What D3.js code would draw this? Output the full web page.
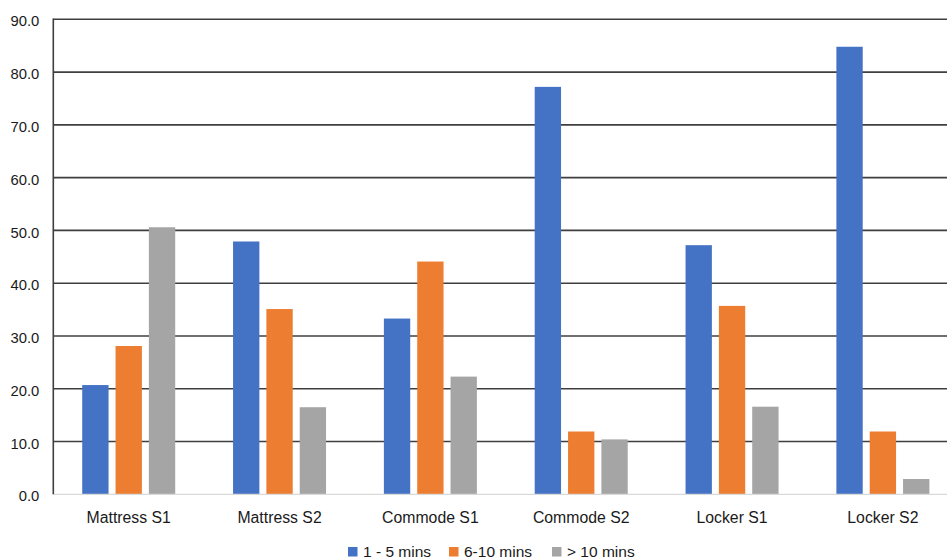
<!DOCTYPE html>
<html>
<head>
<meta charset="utf-8">
<script src="https://cdn.jsdelivr.net/npm/d3@7"></script>
<style>
  html, body { margin: 0; padding: 0; background: #fff; }
  svg { display: block; }
  text { font-family: "Liberation Sans", Arial, sans-serif; fill: #1a1a1a; }
</style>
</head>
<body>
<svg id="chart" width="947" height="560"></svg>
<script>
const categories = ["Mattress S1", "Mattress S2", "Commode S1", "Commode S2", "Locker S1", "Locker S2"];
const seriesNames = ["1 - 5 mins", "6-10 mins", "> 10 mins"];
const seriesColors = ["#4472C4", "#ED7D31", "#A5A5A5"];
const valuesShort = [20.7, 47.9, 33.3, 77.2, 47.2, 84.8];
const valuesMid = [28.1, 35.1, 44.1, 11.9, 35.7, 11.9];
const valuesLong = [50.6, 16.5, 22.3, 10.4, 16.6, 2.9];
const yTicks = [0, 10, 20, 30, 40, 50, 60, 70, 80, 90];

const seriesValues = [valuesShort, valuesMid, valuesLong];

const svg = d3.select("#chart");
const mLeft = 53.3, mRight = 958.3, mTop = 19.3, mBottom = 494.3;

const x0 = d3.scaleBand().domain(categories).range([mLeft, mRight]).padding(0);
const groupW = 93;
const x1 = d3.scaleBand().domain(seriesNames).range([0, groupW]).paddingInner(0.21).paddingOuter(0);
const y = d3.scaleLinear().domain([0, 90]).range([mBottom, mTop]);

// gridlines
const grid = svg.append("g");
grid.selectAll("line.grid").data(yTicks.filter(d => d > 0)).join("line")
  .attr("x1", mLeft).attr("x2", 947)
  .attr("y1", d => y(d)).attr("y2", d => y(d))
  .attr("stroke", "#3f3f3f").attr("stroke-width", 1.6);

// bars
const groups = svg.append("g").selectAll("g").data(categories).join("g")
  .attr("transform", d => `translate(${x0(d) + x0.bandwidth() / 2 - groupW / 2},0)`);
groups.selectAll("rect").data((c, ci) => seriesNames.map((s, si) => ({ s, si, v: seriesValues[si][ci] })))
  .join("rect")
  .attr("x", d => x1(d.s))
  .attr("width", x1.bandwidth())
  .attr("y", d => y(d.v))
  .attr("height", d => y(0) - y(d.v))
  .attr("fill", d => seriesColors[d.si]);

// baseline
svg.append("line").attr("x1", mLeft).attr("x2", 947)
  .attr("y1", y(0)).attr("y2", y(0))
  .attr("stroke", "#d9d9d9").attr("stroke-width", 1.2);

// left axis
svg.append("line").attr("x1", mLeft).attr("x2", mLeft)
  .attr("y1", mTop - 0.8).attr("y2", mBottom)
  .attr("stroke", "#3f3f3f").attr("stroke-width", 1.6);

// y tick labels
const yAxis = d3.axisLeft(y).tickValues(yTicks).tickFormat(d3.format(".1f")).tickSize(0).tickPadding(14);
const ya = svg.append("g").attr("transform", `translate(${mLeft},0)`).call(yAxis);
ya.select(".domain").remove();
ya.selectAll("text").style("font-size", "14.8px").style("font-family", '"Liberation Sans", Arial, sans-serif').attr("fill", "#1a1a1a").attr("dy", "0.45em");

// x labels
const xAxis = d3.axisBottom(x0).tickSize(0).tickPadding(17);
const xa = svg.append("g").attr("transform", `translate(0,${mBottom})`).call(xAxis);
xa.select(".domain").remove();
xa.selectAll("text").style("font-size", "15.8px").style("font-family", '"Liberation Sans", Arial, sans-serif').attr("fill", "#1a1a1a");

// legend
const legendX = [348, 449, 552];
const lg = svg.append("g").selectAll("g").data(seriesNames).join("g")
  .attr("transform", (d, i) => `translate(${legendX[i]},0)`);
lg.append("rect").attr("x", 0).attr("y", 547).attr("width", 9.5).attr("height", 9.5)
  .attr("fill", (d, i) => seriesColors[i]);
lg.append("text").attr("x", 15).attr("y", 556.5).text(d => d)
  .style("font-size", "15.5px");
</script>
</body>
</html>
